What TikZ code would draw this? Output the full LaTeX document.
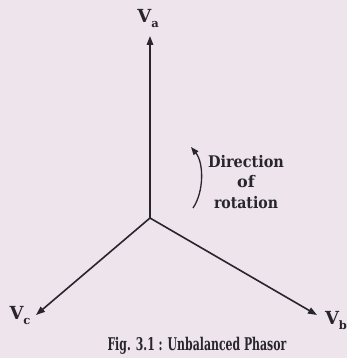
\documentclass[tikz,border=0pt]{standalone}
\usepackage{fontspec}
\setmainfont{DejaVu Serif}
\usetikzlibrary{arrows.meta}
\definecolor{paper}{RGB}{237,228,236}
\definecolor{ink}{RGB}{40,37,45}
\newcommand{\phlabel}[2]{\bfseries\fontsize{18}{18}\selectfont #1\raisebox{-5pt}{\fontsize{11.5}{11.5}\selectfont #2}}
\begin{document}
\begin{tikzpicture}[x=1pt,y=-1pt,
  phasor/.style={draw=ink,line width=1.6pt,-{Triangle[length=9pt,width=6.5pt]}},
  rotarrow/.style={draw=ink,line width=1.3pt,-{Triangle[length=8pt,width=6pt]}},
  lab/.style={text=ink,inner sep=0pt},
  note/.style={text=ink,inner sep=0pt,align=center,font=\bfseries\fontsize{16}{20.5}\selectfont}]
\fill[paper] (0,0) rectangle (347,358);
\useasboundingbox (0,0) rectangle (347,358);
\coordinate (O) at (150,218);
\coordinate (A) at (150,36);
\coordinate (B) at (317,315);
\coordinate (C) at (36,315);
\draw[phasor] (O) -- (A);
\draw[phasor] (O) -- (B);
\draw[phasor] (O) -- (C);
\node[lab] (va) at (148,19) {\phlabel{V}{a}};
\node[lab] (vc) at (20,316) {\phlabel{V}{c}};
\node[lab] (vb) at (336,321) {\phlabel{V}{b}};
\coordinate (r1) at (193,208);
\coordinate (r2) at (191,147);
\draw[rotarrow] (r1) .. controls (204,192) and (204,163) .. (r2);
\node[note] (dir) at (246,182) {\resizebox{76pt}{\height}{Direction}\\of\\\resizebox{64pt}{\height}{rotation}};
\node[lab,anchor=base] (cap) at (197,350) {\resizebox{179pt}{\height}{\fontsize{17.5}{17.5}\selectfont\textbf{Fig. 3.1 : Unbalanced Phasor}}};
\end{tikzpicture}
\end{document}
